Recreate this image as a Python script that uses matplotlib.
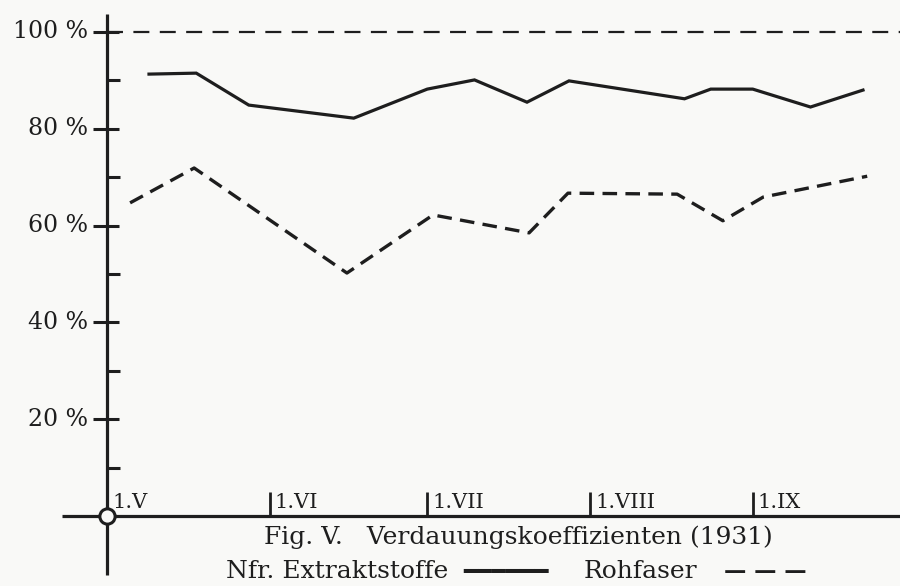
import matplotlib
matplotlib.use("Agg")
import matplotlib.pyplot as plt
import numpy as np

# --- estetica ---
plt.rcParams.update({'font.family': ['DejaVu Serif', 'DejaVu Sans'], 'lines.scale_dashes': False})
INK = '#1e1e1e'
PAPER = '#f9f9f7'

# --- datos (dias desde 1.V) ---
nfr_dias = [8, 17, 27, 47, 61, 70, 80, 88, 110, 115, 123, 134, 144]
nfr_vals = [91.3, 91.5, 84.9, 82.2, 88.2, 90.1, 85.5, 89.9, 86.2, 88.2, 88.2, 84.5, 88.0]

roh_dias = [4.4, 16.6, 45.7, 62.1, 80.4, 87.8, 108.6, 117.3, 125, 144.8]
roh_vals = [64.7, 71.9, 50.2, 62.2, 58.5, 66.7, 66.5, 61.0, 65.9, 70.2]

mes_dias = [0, 31, 61, 92, 123]
mes_etiq = ['1.V', '1.VI', '1.VII', '1.VIII', '1.IX']

y_mayor = [20, 40, 60, 80, 100]
y_menor = [10, 30, 50, 70, 90]
y_etiq = ['20 %', '40 %', '60 %', '80 %', '100 %']

# escala de pixeles -> datos
PX_DIA = 5.25
PX_PCT = 4.84

fig = plt.figure(figsize=(9, 5.86), dpi=100, facecolor=PAPER)
ax = fig.add_axes([0, 0, 1, 1])
ax.set_facecolor(PAPER)
ax.set_xlim(-107 / PX_DIA, 793 / PX_DIA)
ax.set_ylim(-70 / PX_PCT, 516 / PX_PCT)
ax.axis('off')

# ejes dibujados a mano
ax.plot([0, 0], [-12.2, 103.7], color=INK, lw=2.3, solid_capstyle='butt')
ax.plot([-45 / PX_DIA, 151], [0, 0], color=INK, lw=2.3, solid_capstyle='butt')
ax.plot(0, 0, 'o', ms=11, mfc=PAPER, mec=INK, mew=2.2, zorder=5)

# ticks del eje y
for v, lab in zip(y_mayor, y_etiq):
    ax.plot([-14 / PX_DIA, 12 / PX_DIA], [v, v], color=INK, lw=2.2, solid_capstyle='butt')
    ax.text(-19 / PX_DIA, v, lab, ha='right', va='center', fontsize=17, color=INK)
for v in y_menor:
    ax.plot([0, 13 / PX_DIA], [v, v], color=INK, lw=2.2, solid_capstyle='butt')

# ticks del eje x
for d, lab in zip(mes_dias, mes_etiq):
    if d > 0:
        ax.plot([d, d], [0, 24 / PX_PCT], color=INK, lw=2, solid_capstyle='butt')
    ax.text(d + 5 / PX_DIA, 4 / PX_PCT, lab, ha='left', va='bottom', fontsize=15, color=INK)

# linea de 100 %
ax.plot([0, 151], [100, 100], color=INK, lw=1.6, dashes=(11.5, 7.5))

# series
ax.plot(nfr_dias, nfr_vals, color=INK, lw=2.3, solid_joinstyle='miter')
ax.plot(roh_dias, roh_vals, color=INK, lw=2.4, dashes=(10.5, 6))

# pie de figura
def px(x, y):
    return x / 900, 1 - y / 586

ax.text(*px(518, 537), 'Fig. V.   Verdauungskoeffizienten (1931)',
        transform=ax.transAxes, ha='center', va='center', fontsize=18, color=INK)
ax.text(*px(226, 572), 'Nfr. Extraktstoffe', transform=ax.transAxes,
        ha='left', va='center', fontsize=18, color=INK)
ax.text(*px(463, 572), '━━━━━━', transform=ax.transAxes, family='DejaVu Sans',
        ha='left', va='center', fontsize=17, color=INK)
ax.text(*px(584, 572), 'Rohfaser', transform=ax.transAxes,
        ha='left', va='center', fontsize=18, color=INK)
ax.text(*px(724, 572), '— — —', transform=ax.transAxes,
        ha='left', va='center', fontsize=16, fontweight='bold', color=INK)

fig.savefig('out.png', dpi=100, facecolor=PAPER)
